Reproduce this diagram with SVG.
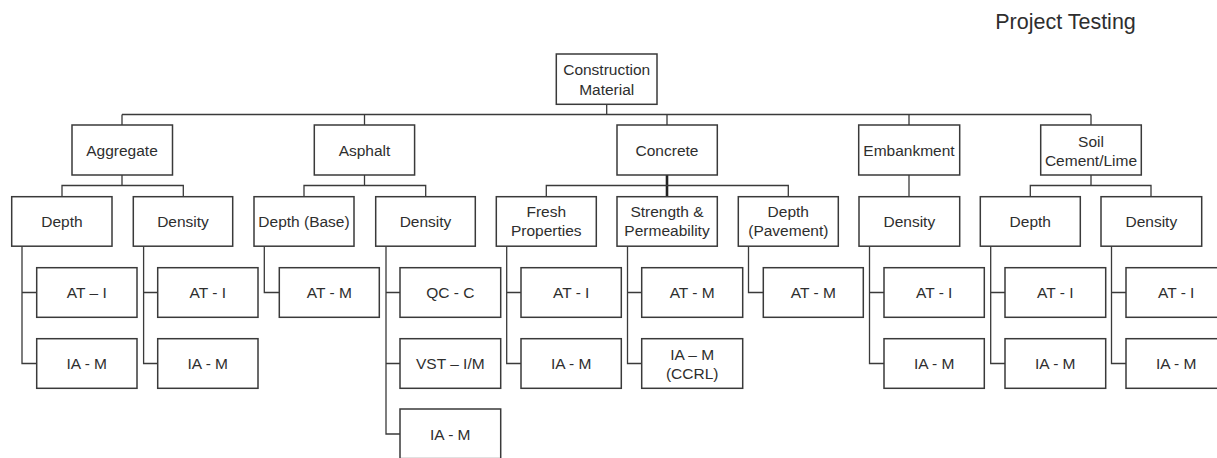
<svg xmlns="http://www.w3.org/2000/svg" width="1217" height="458" viewBox="0 0 1217 458">
<style>
.box{fill:#fff;stroke:#3a3a3a;stroke-width:1.5}
.ln{fill:none;stroke:#3a3a3a;stroke-width:1.3}
.thick{fill:none;stroke:#222;stroke-width:2.6}
text{font-family:"Liberation Sans",Arial,sans-serif;font-size:15.5px;fill:#2e2e2e;text-anchor:middle}
.title{font-size:21.5px;text-anchor:middle}
</style>
<rect width="1217" height="458" fill="#fff"/>
<text class="title" x="1065.5" y="29">Project Testing</text>
<g id="connectors">
<path class="ln" d="M606.7 104.3V114.5M122 114.5H1091M122 114.5V125M364.5 114.5V125M667 114.5V125M909 114.5V125M1091 114.5V125"/>
<path class="ln" d="M122 175V185.5M62 196.7V185.5H183.3V196.7"/>
<path class="ln" d="M364.5 175V185.5M304 196.7V185.5H425.7V196.7"/>
<path class="thick" d="M667 175V196.7"/>
<path class="ln" d="M546.3 196.7V185.5H788.3V196.7"/>
<path class="ln" d="M909 175V196.7"/>
<path class="ln" d="M1091 175V185.5M1030.3 196.7V185.5H1151V196.7"/>
<path class="ln" d="M22 246.2V363.5H36.7M22 292.5H36.7"/>
<path class="ln" d="M143.6 246.2V363.5H157.7M143.6 292.5H157.7"/>
<path class="ln" d="M264.3 246.2V292.5H279.3"/>
<path class="ln" d="M386 246.2V434H400M386 292.5H400M386 363.5H400"/>
<path class="ln" d="M506.7 246.2V363.5H521M506.7 292.5H521"/>
<path class="ln" d="M627.5 246.2V363.5H641.7M627.5 292.5H641.7"/>
<path class="ln" d="M748.5 246.2V292.5H763.3"/>
<path class="ln" d="M869.5 246.2V363.5H884M869.5 292.5H884"/>
<path class="ln" d="M990.7 246.2V363.5H1005M990.7 292.5H1005"/>
<path class="ln" d="M1111.5 246.2V363.5H1126M1111.5 292.5H1126"/>
</g>
<g id="root"><rect class="box" x="556.3" y="54" width="100.7" height="50.3"/><text x="606.7" y="74.5">Construction</text><text x="606.7" y="94.5">Material</text></g>
<g id="aggregate"><rect class="box" x="72" y="125" width="100.5" height="50"/><text x="122" y="155.5">Aggregate</text></g>
<g id="asphalt"><rect class="box" x="314.3" y="125" width="100.3" height="50"/><text x="364.5" y="155.5">Asphalt</text></g>
<g id="concrete"><rect class="box" x="617" y="125" width="100.3" height="50"/><text x="667" y="155.5">Concrete</text></g>
<g id="embankment"><rect class="box" x="858.7" y="125" width="101" height="50"/><text x="909" y="155.5">Embankment</text></g>
<g id="soil"><rect class="box" x="1040.7" y="125" width="100.6" height="50"/><text x="1091" y="146.5">Soil</text><text x="1091" y="165.5">Cement/Lime</text></g>

<g id="agg-depth"><rect class="box" x="11.7" y="196.7" width="100.3" height="49.5"/><text x="61.9" y="227">Depth</text></g>
<g id="agg-density"><rect class="box" x="133.3" y="196.7" width="99.4" height="49.5"/><text x="183" y="227">Density</text></g>
<g id="asp-depth"><rect class="box" x="254" y="196.7" width="100" height="49.5"/><text x="304" y="227">Depth (Base)</text></g>
<g id="asp-density"><rect class="box" x="375.7" y="196.7" width="99.6" height="49.5"/><text x="425.5" y="227">Density</text></g>
<g id="con-fresh"><rect class="box" x="496.3" y="196.7" width="100" height="49.5"/><text x="546.3" y="216.7">Fresh</text><text x="546.3" y="236">Properties</text></g>
<g id="con-strength"><rect class="box" x="617" y="196.7" width="100.3" height="49.5"/><text x="667" y="216.7">Strength &amp;</text><text x="667" y="236">Permeability</text></g>
<g id="con-depth"><rect class="box" x="738.3" y="196.7" width="100" height="49.5"/><text x="788.3" y="216.7">Depth</text><text x="788.3" y="236">(Pavement)</text></g>
<g id="emb-density"><rect class="box" x="859" y="196.7" width="100.7" height="49.5"/><text x="909.3" y="227">Density</text></g>
<g id="soil-depth"><rect class="box" x="980.3" y="196.7" width="100" height="49.5"/><text x="1030.3" y="227">Depth</text></g>
<g id="soil-density"><rect class="box" x="1101" y="196.7" width="100.7" height="49.5"/><text x="1151.3" y="227">Density</text></g>

<g id="agg-depth-at"><rect class="box" x="36.7" y="267.7" width="100.3" height="49.6"/><text x="86.8" y="298">AT – I</text></g>
<g id="agg-depth-ia"><rect class="box" x="36.7" y="338.7" width="100.3" height="49.6"/><text x="86.8" y="369">IA - M</text></g>
<g id="agg-density-at"><rect class="box" x="157.7" y="267.7" width="100.3" height="49.6"/><text x="207.8" y="298">AT - I</text></g>
<g id="agg-density-ia"><rect class="box" x="157.7" y="338.7" width="100.3" height="49.6"/><text x="207.8" y="369">IA - M</text></g>
<g id="asp-depth-at"><rect class="box" x="279.3" y="267.7" width="100" height="49.6"/><text x="329.3" y="298">AT - M</text></g>
<g id="asp-density-qc"><rect class="box" x="400" y="267.7" width="100.7" height="49.6"/><text x="450.3" y="298">QC - C</text></g>
<g id="asp-density-vst"><rect class="box" x="400" y="338.7" width="100.7" height="49.6"/><text x="450.3" y="369">VST – I/M</text></g>
<g id="asp-density-ia"><rect class="box" x="400" y="409" width="100.7" height="49.6"/><text x="450.3" y="439.5">IA - M</text></g>
<g id="con-fresh-at"><rect class="box" x="521" y="267.7" width="100.3" height="49.6"/><text x="571.2" y="298">AT - I</text></g>
<g id="con-fresh-ia"><rect class="box" x="521" y="338.7" width="100.3" height="49.6"/><text x="571.2" y="369">IA - M</text></g>
<g id="con-strength-at"><rect class="box" x="641.7" y="267.7" width="101" height="49.6"/><text x="692.2" y="298">AT - M</text></g>
<g id="con-strength-ia"><rect class="box" x="641.7" y="338.7" width="101" height="49.6"/><text x="692.2" y="359.5">IA – M</text><text x="692.2" y="378.5">(CCRL)</text></g>
<g id="con-depth-at"><rect class="box" x="763.3" y="267.7" width="100" height="49.6"/><text x="813.3" y="298">AT - M</text></g>
<g id="emb-density-at"><rect class="box" x="884" y="267.7" width="100.3" height="49.6"/><text x="934.2" y="298">AT - I</text></g>
<g id="emb-density-ia"><rect class="box" x="884" y="338.7" width="100.3" height="49.6"/><text x="934.2" y="369">IA - M</text></g>
<g id="soil-depth-at"><rect class="box" x="1005" y="267.7" width="100.7" height="49.6"/><text x="1055.3" y="298">AT - I</text></g>
<g id="soil-depth-ia"><rect class="box" x="1005" y="338.7" width="100.7" height="49.6"/><text x="1055.3" y="369">IA - M</text></g>
<g id="soil-density-at"><rect class="box" x="1126" y="267.7" width="100.3" height="49.6"/><text x="1176.2" y="298">AT - I</text></g>
<g id="soil-density-ia"><rect class="box" x="1126" y="338.7" width="100.3" height="49.6"/><text x="1176.2" y="369">IA - M</text></g>
</svg>
